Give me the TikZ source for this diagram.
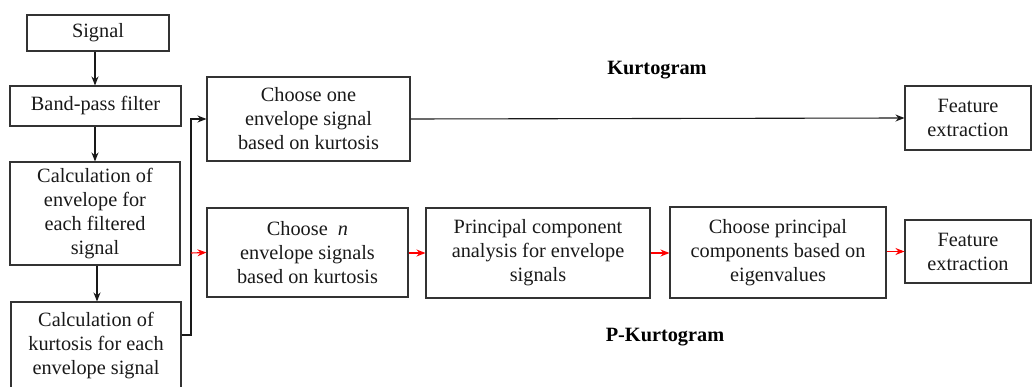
\documentclass[tikz,border=0pt]{standalone}
\usepackage{fontspec}
\setmainfont{Liberation Serif}
\usetikzlibrary{arrows.meta}
\begin{document}
\begin{tikzpicture}[x=1pt,y=-1pt,
  box/.style={draw=black!80,line width=1.1pt,align=center,inner sep=0pt,
    font=\fontsize{20.3}{24}\selectfont,text=black!90},
  arr/.style={-{Stealth[length=9pt,width=7pt]},line width=1.1pt,black!90},
  rarr/.style={-{Stealth[length=9pt,width=7pt]},line width=1.1pt,red},
  lbl/.style={font=\fontsize{20.3}{24}\selectfont\bfseries,inner sep=0pt}]
\useasboundingbox (0,0) rectangle (1032,387);
\begin{scope}
\clip (0,0) rectangle (1032,387);
\node[box,minimum width=142pt,minimum height=36pt] (sig) at (98,33) {Signal};
\node[box,minimum width=171pt,minimum height=40pt] (bpf) at (95.5,106) {Band-pass filter};
\node[box,minimum width=170pt,minimum height=103pt] (env) at (95,213.5) {Calculation of\\envelope for\\each filtered\\signal};
\node[box,minimum width=170pt,minimum height=88pt] (kur) at (96,346) {Calculation of\\kurtosis for each\\envelope signal};
\node[box,minimum width=203pt,minimum height=84pt] (one) at (308.5,119) {Choose one\\envelope signal\\based on kurtosis};
\node[box,minimum width=201pt,minimum height=89pt] (chn) at (307.5,252.5) {Choose \ \textit{n}\\envelope signals\\based on kurtosis};
\node[box,minimum width=224pt,minimum height=90pt] (pca) at (538,253) {Principal component\\analysis for envelope\\signals};
\node[box,minimum width=216pt,minimum height=91pt] (cpc) at (778,252.5) {Choose principal\\components based on\\eigenvalues};
\node[box,minimum width=126pt,minimum height=64pt] (fe1) at (968,118) {Feature\\extraction};
\node[box,minimum width=126pt,minimum height=63pt] (fe2) at (968,251.5) {Feature\\extraction};
\node[lbl] (k1) at (657,70) {Kurtogram};
\node[lbl] (k2) at (665,337) {P-Kurtogram};
\coordinate (c1) at (95,0);
\coordinate (c2) at (97,0);
\coordinate (bus) at (191,253);
\coordinate (ktop) at (191,119);
\coordinate (kbot) at (191,335);
\draw[arr] (sig.south -| c1) -- (bpf.north -| c1);
\draw[arr] (bpf.south -| c1) -- (env.north -| c1);
\draw[arr] (env.south -| c2) -- (kur.north -| c2);
\draw[arr] (kur.east |- kbot) -- (kbot) -- (ktop) -- (one.west);
\draw[arr] (one.east) -- (fe1.west);
\draw[rarr] (bus) -- (chn.west);
\draw[rarr] (chn.east |- pca.west) -- (pca.west);
\draw[rarr] (pca.east) -- (pca.east -| cpc.west);
\draw[rarr] (cpc.east |- fe2.west) -- (fe2.west);
\end{scope}
\end{tikzpicture}
\end{document}
